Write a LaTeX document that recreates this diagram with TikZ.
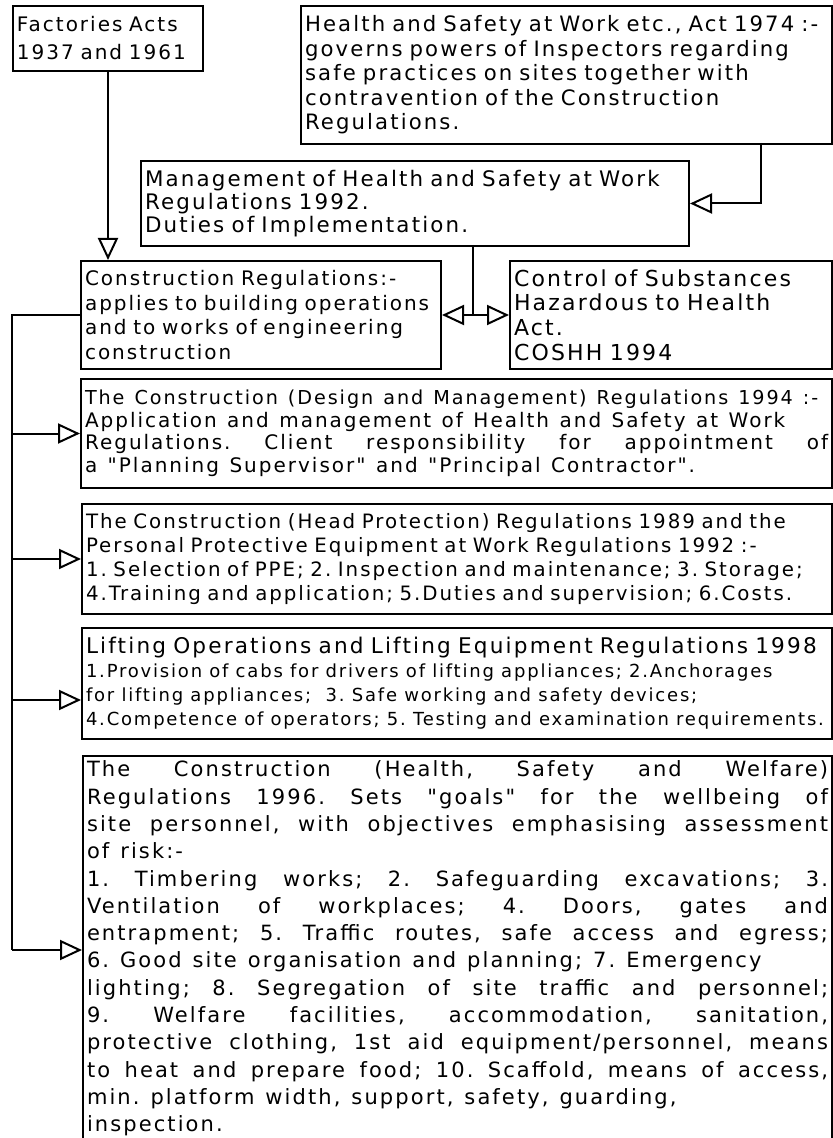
\documentclass[tikz,border=0pt]{standalone}
\usepackage{fontspec}
\setmainfont{DejaVu Sans}[LetterSpace=10,WordSpace=1.25,Ligatures=TeXOff]
\usetikzlibrary{arrows.meta}

\tikzset{
  regbox/.style={draw, line width=1pt, anchor=north west, inner xsep=2pt, inner ysep=2pt, align=left},
  wire/.style={line width=1pt},
  arr/.style={line width=1pt, -{Triangle[open,length=11pt,width=10pt]}},
}
\newcommand{\fsz}[2]{\fontsize{#1}{#2}\selectfont\frenchspacing}

\begin{document}
\begin{tikzpicture}[x=0.5pt,y=-0.5pt,line join=miter]
  \useasboundingbox (0,0) rectangle (832,1138);
  % top row
  \node[regbox,text width=91pt,minimum height=32.5pt,font=\fsz{10pt}{14pt}] (fact) at (12,5)
    {Factories Acts\\1937 and 1961};
  \node[regbox,text width=261.5pt,minimum height=69pt,font=\fsz{10.6pt}{12.25pt}] (hswa) at (300,5)
    {Health and Safety at Work etc., Act 1974 :-\\governs powers of Inspectors regarding\\safe practices on sites together with\\contravention of the Construction\\Regulations.};
  \node[regbox,text width=270pt,minimum height=42.5pt,font=\fsz{10.7pt}{11.5pt}] (mhsw) at (140,160)
    {Management of Health and Safety at Work\\Regulations 1992.\\Duties of Implementation.};
  % middle row
  \node[regbox,text width=176pt,minimum height=54pt,font=\fsz{10pt}{12.3pt}] (creg) at (80,260)
    {Construction Regulations:-\\applies to building operations\\and to works of engineering\\construction};
  \node[regbox,text width=157pt,minimum height=54pt,font=\fsz{11pt}{12.3pt}] (coshh) at (509,260)
    {Control of Substances\\Hazardous to Health\\Act.\\COSHH 1994};
  % regulation boxes
  \node[regbox,align=justify,text width=371.5pt,minimum height=54.5pt,font=\fsz{9.6pt}{11.25pt}] (cdm) at (80,378)
    {The Construction (Design and Management) Regulations 1994 :-\\\fsz{10pt}{11.25pt}Application and management of Health and Safety at Work\\Regulations. Client responsibility for appointment of\linebreak
     a "Planning Supervisor" and "Principal Contractor".};
  \node[regbox,text width=371pt,minimum height=55pt,font=\fsz{9.9pt}{12.1pt}] (hpr) at (81,503)
    {The Construction (Head Protection) Regulations 1989 and the\\Personal Protective Equipment at Work Regulations 1992 :-\\1. Selection of PPE; 2. Inspection and maintenance; 3. Storage;\\4.Training and application; 5.Duties and supervision; 6.Costs.};
  \node[regbox,text width=371pt,minimum height=55.5pt,font=\fsz{10.8pt}{12pt}] (loler) at (81,627)
    {Lifting Operations and Lifting Equipment Regulations 1998\\\fsz{9pt}{12pt}1.Provision of cabs for drivers of lifting appliances; 2.Anchorages\\for lifting appliances;\ \ 3. Safe working and safety devices;\\4.Competence of operators; 5. Testing and examination requirements.};
  \node[regbox,align=justify,text width=370.5pt,minimum height=192.5pt,font=\fsz{10.5pt}{13.65pt}] (chsw) at (82,755)
    {The Construction (Health, Safety and Welfare)\linebreak
     Regulations 1996. Sets "goals" for the wellbeing of\linebreak
     site personnel, with objectives emphasising assessment\linebreak
     of risk:-\\
     1. Timbering works; 2. Safeguarding excavations; 3.\linebreak
     Ventilation of workplaces; 4. Doors, gates and\linebreak
     entrapment; 5. Traffic routes, safe access and egress;\linebreak
     6. Good site organisation and planning; 7. Emergency\\
     lighting; 8. Segregation of site traffic and personnel;\linebreak
     9. Welfare facilities, accommodation, sanitation,\linebreak
     protective clothing, 1st aid equipment/personnel, means\linebreak
     to heat and prepare food; 10. Scaffold, means of access,\linebreak
     min. platform width, support, safety, guarding,\\
     inspection.};
  % connectors
  \coordinate (hswtap) at (761,143);
  \coordinate (mtap) at (473,245);
  \coordinate (busend) at (12,950);
  \coordinate (lolertap) at (12,700);
  \draw[arr] (fact.south) -- (fact.south |- creg.north);
  \draw[arr] (hswtap) |- (mhsw.east);
  \draw[wire] (mtap) -- (mtap |- creg.east) coordinate (split);
  \draw[arr] (split) -- (creg.east);
  \draw[arr] (split) -- (coshh.west);
  \draw[wire] (creg.west) -| (busend);
  \draw[arr] (busend |- cdm.west) -- (cdm.west);
  \draw[arr] (busend |- hpr.west) -- (hpr.west);
  \draw[arr] (lolertap) -- (lolertap -| loler.west);
  \draw[arr] (busend) -- (busend -| chsw.west);
\end{tikzpicture}
\end{document}
